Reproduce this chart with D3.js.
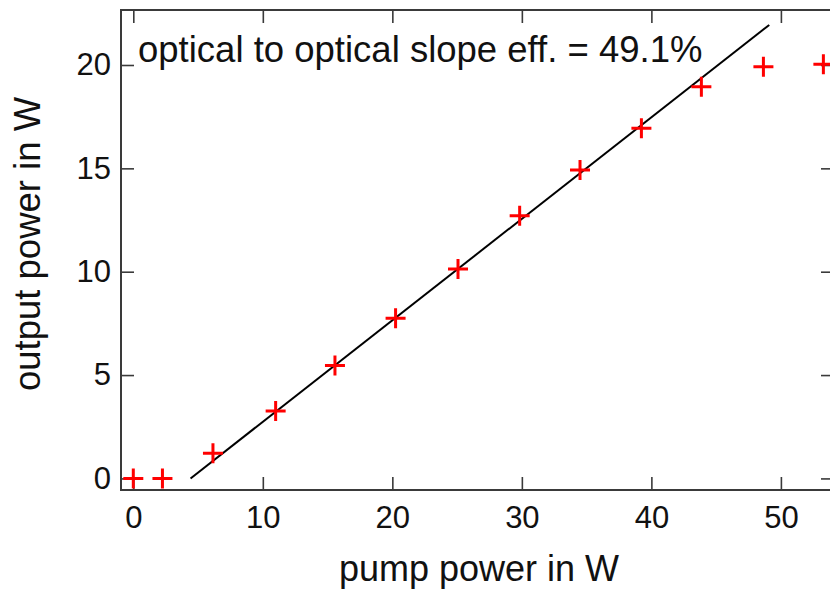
<!DOCTYPE html>
<html>
<head>
<meta charset="utf-8">
<script src="https://cdn.jsdelivr.net/npm/d3@7"></script>
<style>
  html, body { margin: 0; padding: 0; background: #fff; }
  svg { display: block; font-family: "Liberation Sans", Arial, sans-serif; }
</style>
</head>
<body>
<svg id="chart" width="830" height="591"></svg>
<script>
// Measured output power vs. pump power
const pumpPower   = [0, 2.25, 6.15, 10.99, 15.57, 20.25, 25.07, 29.83, 34.49, 39.23, 43.86, 48.65, 53.28];
const outputPower = [0, 0, 1.22, 3.26, 5.46, 7.75, 10.13, 12.71, 14.92, 16.94, 18.95, 19.92, 20.03];

// Linear fit: slope efficiency and threshold
const slopeEff = 0.491;
const threshold = 4.42;
const fitRange = [4.42, 49.1];

const xTicks = [0, 10, 20, 30, 40, 50];
const yTicks = [0, 5, 10, 15, 20];

const annotation = "optical to optical slope eff. = 49.1%";
const xTitle = "pump power in W";
const yTitle = "output power in W";

const svg = d3.select("#chart");
const margin = { left: 121, top: 10, right: -4, bottom: 101 };
const W = 830, H = 591;
const x0 = margin.left, x1 = W - margin.right;
const y0 = H - margin.bottom, y1 = margin.top;

const x = d3.scaleLinear().domain([-0.95, 54.1]).range([x0, x1]);
const y = d3.scaleLinear().domain([-0.56, 22.66]).range([y0, y1]);

const axisColor = "#3a3a3a";
const tickLen = 13;

function styleAxis(g, showLabels) {
  g.select(".domain").remove();
  g.selectAll(".tick line").attr("stroke", axisColor).attr("stroke-width", 1.6);
  g.selectAll(".tick text")
    .attr("fill", "#111")
    .style("font-size", "31px")
    .style("font-family", "'Liberation Sans', Arial, sans-serif");
  if (!showLabels) g.selectAll(".tick text").remove();
}

// bottom axis (ticks pointing inward)
svg.append("g")
  .attr("transform", `translate(0,${y0})`)
  .call(d3.axisBottom(x).tickValues(xTicks).tickSize(-tickLen).tickPadding(16).tickFormat(d3.format("d")))
  .call(g => styleAxis(g, true));

// top axis
svg.append("g")
  .attr("transform", `translate(0,${y1})`)
  .call(d3.axisTop(x).tickValues(xTicks).tickSize(-tickLen))
  .call(g => styleAxis(g, false));

// left axis
svg.append("g")
  .attr("transform", `translate(${x0},0)`)
  .call(d3.axisLeft(y).tickValues(yTicks).tickSize(-tickLen).tickPadding(10).tickFormat(d3.format("d")))
  .call(g => styleAxis(g, true));

// right axis
svg.append("g")
  .attr("transform", `translate(${x1},0)`)
  .call(d3.axisRight(y).tickValues(yTicks).tickSize(-tickLen))
  .call(g => styleAxis(g, false));

// frame
svg.append("rect")
  .attr("x", x0).attr("y", y1)
  .attr("width", x1 - x0).attr("height", y0 - y1)
  .attr("fill", "none").attr("stroke", axisColor).attr("stroke-width", 2);

// fit line
const fit = fitRange.map(p => [p, slopeEff * (p - threshold)]);
svg.append("path")
  .attr("d", d3.line().x(d => x(d[0])).y(d => y(d[1]))(fit))
  .attr("stroke", "#000").attr("stroke-width", 2).attr("fill", "none");

// data markers (crosses)
const arm = 10;
const pts = pumpPower.map((p, i) => [p, outputPower[i]]);
const marks = svg.append("g").attr("stroke", "#ff0000").attr("stroke-width", 3);
marks.selectAll("path").data(pts).join("path")
  .attr("d", d => {
    const cx = x(d[0]), cy = y(d[1]);
    return `M${cx - arm},${cy}H${cx + arm}M${cx},${cy - arm}V${cy + arm}`;
  });

// annotation
svg.append("text")
  .attr("x", 138).attr("y", 62)
  .attr("fill", "#111")
  .style("font-size", "36.5px")
  .text(annotation);

// axis titles
svg.append("text")
  .attr("x", 479)
  .attr("y", 581)
  .attr("text-anchor", "middle")
  .attr("fill", "#111")
  .style("font-size", "36px")
  .text(xTitle);

svg.append("text")
  .attr("transform", `translate(40,244) rotate(-90)`)
  .attr("text-anchor", "middle")
  .attr("fill", "#111")
  .style("font-size", "36.5px")
  .text(yTitle);
</script>
</body>
</html>
